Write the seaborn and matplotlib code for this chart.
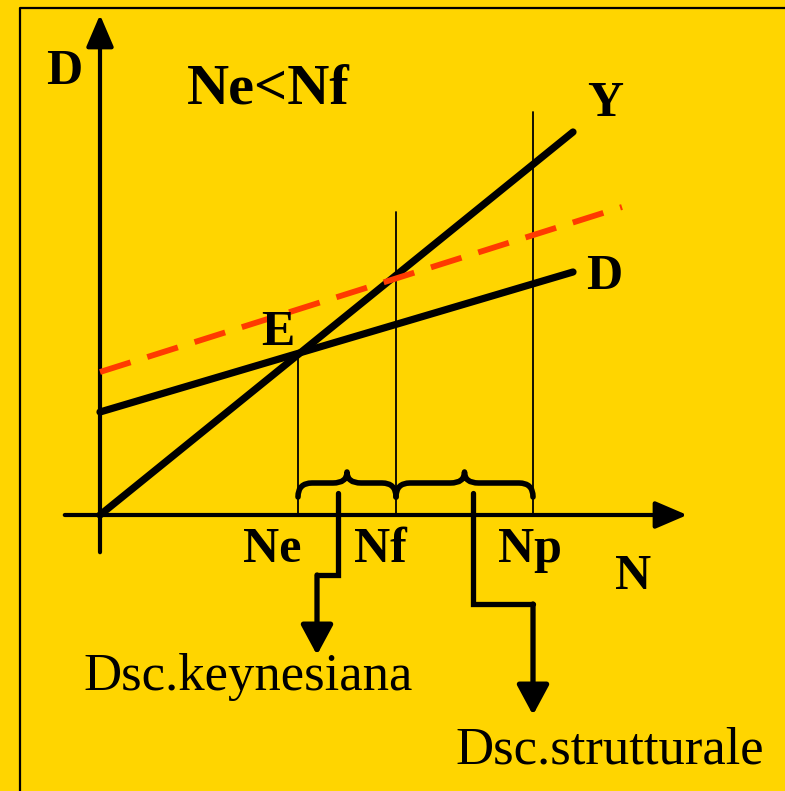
import numpy as np
import pandas as pd
import matplotlib.pyplot as plt
from matplotlib.path import Path
from matplotlib.patches import PathPatch, FancyArrowPatch
import seaborn as sns

sns.set_theme(style="white")
plt.rcParams["font.family"] = ["Liberation Serif", "DejaVu Serif"]
plt.rcParams["text.color"] = "black"

BG = "#FFD500"
RED = "#FF3A00"

# dati del diagramma (unità arbitrarie, origine in N=0, D=0)
N_line = [0, 473]
Y_line = [0, 383]          # retta a 45° (offerta aggregata)
D_line = [103, 243]        # domanda aggregata
N_dash = [0, 522]
D_dash = [143, 308]        # domanda aggregata spostata (tratteggiata)

N_labels = ["Ne", "Nf", "Np"]
N_values = [198, 296, 433]
N_tops = [160, 303, 403]   # altezza delle linee verticali

fig = plt.figure(figsize=(7.85, 7.91), dpi=100, facecolor=BG)
ax = fig.add_axes([0, 0, 1, 1])
ax.set_facecolor(BG)

# cornice
ax.plot([-80, -80, 700], [-290, 507, 507], color="black", lw=1.6, clip_on=False)

# assi
ax.add_patch(FancyArrowPatch((0, -40), (0, 503), arrowstyle="-|>,head_length=1.4,head_width=0.6",
                             mutation_scale=14, color="black", lw=3))
ax.add_patch(FancyArrowPatch((-38, 0), (590, 0), arrowstyle="-|>,head_length=1.4,head_width=0.6",
                             mutation_scale=14, color="black", lw=3))

# linee verticali
for n, t in zip(N_values, N_tops):
    ax.plot([n, n], [0, t], color="black", lw=1.3)

df = pd.DataFrame({"N": N_line, "Y": Y_line, "D": D_line})
sns.lineplot(data=df, x="N", y="Y", color="black", lw=5.2, ax=ax, legend=False)
sns.lineplot(data=df, x="N", y="D", color="black", lw=5.2, ax=ax, legend=False)
dd = pd.DataFrame({"N": N_dash, "D": D_dash})
sns.lineplot(data=dd, x="N", y="D", color=RED, lw=4.2, ax=ax, legend=False,
             dashes=False, linestyle=(0, (5.5, 3)))
ax.set_xlim(-100, 685)
ax.set_ylim(-276, 515)
ax.axis("off")


def brace(x0, x1, h=32, drop=14, rise=11, r=14):
    m = (x0 + x1) / 2
    verts = [(x0, h - drop), (x0, h), (x0 + r, h),
             (m - r, h), (m, h), (m, h + rise),
             (m, h), (m + r, h),
             (x1 - r, h), (x1, h), (x1, h - drop)]
    codes = [Path.MOVETO, Path.CURVE3, Path.CURVE3,
             Path.LINETO, Path.CURVE3, Path.CURVE3,
             Path.CURVE3, Path.CURVE3,
             Path.LINETO, Path.CURVE3, Path.CURVE3]
    ax.add_patch(PathPatch(Path(verts, codes), fill=False, color="black", lw=4,
                           capstyle="round", joinstyle="round"))


brace(N_values[0], N_values[1])
brace(N_values[1], N_values[2])

# frecce a gomito
def elbow(pts):
    xs = [p[0] for p in pts]
    ys = [p[1] for p in pts]
    ax.plot(xs[:-1], ys[:-1], color="black", lw=3.8, solid_joinstyle="miter")
    ax.add_patch(FancyArrowPatch(pts[-2], pts[-1], arrowstyle="-|>,head_length=1.3,head_width=0.7",
                                 mutation_scale=14, color="black", lw=3.8, shrinkA=0, shrinkB=0))


elbow([(238, 22), (238, -60), (217, -60), (217, -140)])
elbow([(373, 22), (373, -89), (433, -89), (433, -200)])

bold = dict(fontweight="bold", ha="center", va="center", color="black")
ax.text(-36, 443, "D", fontsize=36, **bold)
ax.text(168, 425, "Ne<Nf", fontsize=42, **bold)
ax.text(505, 411, "Y", fontsize=36, **bold)
ax.text(504, 238, "D", fontsize=36, **bold)
ax.text(178, 182, "E", fontsize=36, **bold)
for lab, x in zip(N_labels, [172, 280, 430]):
    ax.text(x, -35, lab, fontsize=36, **bold)
ax.text(533, -62, "N", fontsize=36, **bold)
ax.text(148, -162, "Dsc.keynesiana", fontsize=38, color="black", ha="center", va="center")
ax.text(510, -235, "Dsc.strutturale", fontsize=38, color="black", ha="center", va="center")

fig.savefig("out.png", dpi=100, facecolor=BG)
